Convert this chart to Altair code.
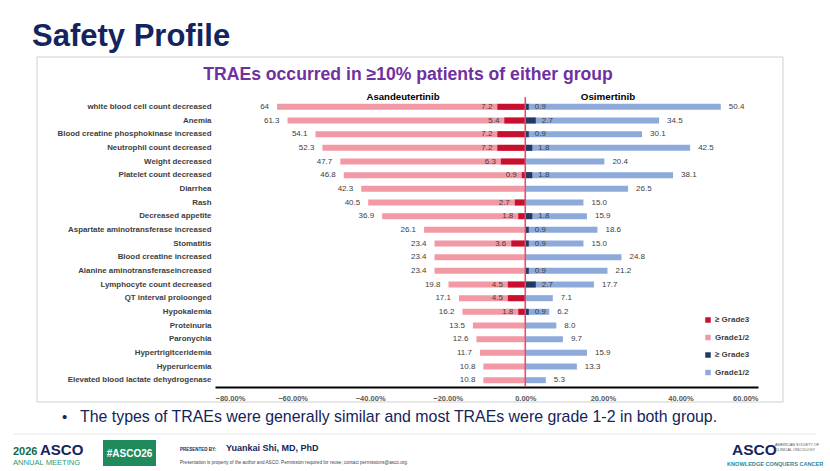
import altair as alt
import pandas as pd

# Treatment-related adverse events (% of patients), most frequent first
events = [
    "white blood cell count decreased",
    "Anemia",
    "Blood creatine phosphokinase increased",
    "Neutrophil count decreased",
    "Weight decreased",
    "Platelet count decreased",
    "Diarrhea",
    "Rash",
    "Decreased appetite",
    "Aspartate aminotransferase increased",
    "Stomatitis",
    "Blood creatine  increased",
    "Alanine aminotransferaseincreased",
    "Lymphocyte count decreased",
    "QT interval proloonged",
    "Hypokalemia",
    "Proteinuria",
    "Paronychia",
    "Hypertrigltceridemia",
    "Hyperuricemia",
    "Elevated blood lactate dehydrogenase",
]
asan_any = [64, 61.3, 54.1, 52.3, 47.7, 46.8, 42.3, 40.5, 36.9, 26.1, 23.4,
            23.4, 23.4, 19.8, 17.1, 16.2, 13.5, 12.6, 11.7, 10.8, 10.8]
asan_g3 = [7.2, 5.4, 7.2, 7.2, 6.3, 0.9, None, 2.7, 1.8, None, 3.6,
           None, None, 4.5, 4.5, 1.8, None, None, None, None, None]
osim_any = [50.4, 34.5, 30.1, 42.5, 20.4, 38.1, 26.5, 15.0, 15.9, 18.6, 15.0,
            24.8, 21.2, 17.7, 7.1, 6.2, 8.0, 9.7, 15.9, 13.3, 5.3]
osim_g3 = [0.9, 2.7, 0.9, 1.8, None, 1.8, None, None, 1.8, 0.9, 0.9,
           None, 0.9, 2.7, None, 0.9, None, None, None, None, None]
x_ticks = [-80, -60, -40, -20, 0, 20, 40, 60]

series_keys = ["a3", "a12", "o3", "o12"]
series_colors = ["#c8102e", "#f19aa5", "#1f3864", "#8eaadb"]


def fmt(v):
    return str(v) if isinstance(v, int) else f"{v:.1f}"


rows = []
for i, ev in enumerate(events):
    rows.append(dict(event=ev, key="a12", layer="any", val=-asan_any[i], lab=fmt(asan_any[i])))
    rows.append(dict(event=ev, key="o12", layer="any", val=osim_any[i], lab=fmt(osim_any[i])))
    if asan_g3[i] is not None:
        rows.append(dict(event=ev, key="a3", layer="g3", val=-asan_g3[i], lab=fmt(asan_g3[i])))
    if osim_g3[i] is not None:
        rows.append(dict(event=ev, key="o3", layer="g3", val=osim_g3[i], lab=fmt(osim_g3[i])))
df = pd.DataFrame(rows)

FONT = "Liberation Sans"
LABEL_COL = "#404040"

x_enc = alt.X(
    "val:Q",
    scale=alt.Scale(domain=[-80, 60], nice=False, zero=False),
    axis=alt.Axis(
        values=x_ticks,
        labelExpr="format(datum.value, '.2f') + '%'",
        title=None,
        grid=False,
        ticks=False,
        domainColor="#000000",
        domainWidth=2,
        labelFont=FONT,
        labelFontSize=7.5,
        labelFontWeight="bold",
        labelColor="#595959",
        labelPadding=7,
    ),
)
y_enc = alt.Y(
    "event:N",
    sort=events,
    scale=alt.Scale(paddingInner=0, paddingOuter=0),
    axis=alt.Axis(
        title=None,
        domain=False,
        ticks=False,
        labelFont=FONT,
        labelFontSize=7.9,
        labelFontWeight="bold",
        labelColor=LABEL_COL,
        labelPadding=4,
        labelLimit=300,
    ),
)
color_enc = alt.Color(
    "key:N",
    scale=alt.Scale(domain=series_keys, range=series_colors),
    legend=alt.Legend(
        title=None,
        orient="none",
        legendX=489,
        legendY=216,
        symbolType="square",
        symbolSize=30,
        symbolStrokeWidth=0,
        labelExpr="indexof(datum.label, '3') >= 0 ? '≥ Grade3' : 'Grade1/2'",
        labelFont=FONT,
        labelFontSize=8,
        labelFontWeight="bold",
        labelColor=LABEL_COL,
        rowPadding=9.5,
        labelOffset=3,
    ),
)

base = alt.Chart(df)

bars_any = base.transform_filter("datum.layer == 'any'").mark_bar(size=6).encode(
    x=x_enc, x2=alt.datum(0), y=y_enc, color=color_enc
)
bars_g3 = base.transform_filter("datum.layer == 'g3'").mark_bar(size=6).encode(
    x="val:Q", x2=alt.datum(0), y=alt.Y("event:N", sort=events), color="key:N"
)

lbl = dict(font=FONT, fontSize=8, color=LABEL_COL, baseline="middle")
left_any = base.transform_filter("datum.key == 'a12'").mark_text(align="right", dx=-8, **lbl).encode(
    x="val:Q", y=alt.Y("event:N", sort=events), text="lab:N")
right_any = base.transform_filter("datum.key == 'o12'").mark_text(align="left", dx=8, **lbl).encode(
    x="val:Q", y=alt.Y("event:N", sort=events), text="lab:N")
left_g3 = base.transform_filter("datum.key == 'a3'").mark_text(align="right", dx=-5, **lbl).encode(
    x="val:Q", y=alt.Y("event:N", sort=events), text="lab:N")
right_g3 = base.transform_filter("datum.key == 'o3'").mark_text(align="left", dx=6, **lbl).encode(
    x="val:Q", y=alt.Y("event:N", sort=events), text="lab:N")

one = pd.DataFrame({"k": [0]})
zero_line = alt.Chart(one).mark_rule(color="#e0506a", strokeWidth=1.6).encode(
    x=alt.datum(0), y=alt.value(-3), y2=alt.value(287))

# Plot origin sits at (215, 100) on the 830x471 slide; decorations use offsets from it.
OX, OY = 215, 100


def txt(s, x, y, size, color, weight="normal", align="left", font=FONT, baseline="alphabetic"):
    return alt.Chart(one).mark_text(
        text=s, font=font, fontSize=size, color=color, fontWeight=weight,
        align=align, baseline=baseline,
    ).encode(x=alt.value(x - OX), y=alt.value(y - OY))


def box(x1, y1, x2, y2, fill=None, stroke=None, sw=1):
    kw = {}
    if fill:
        kw["fill"] = fill
    else:
        kw["fillOpacity"] = 0
    if stroke:
        kw["stroke"] = stroke
        kw["strokeWidth"] = sw
    return alt.Chart(one).mark_rect(**kw).encode(
        x=alt.value(x1 - OX), x2=alt.value(x2 - OX), y=alt.value(y1 - OY), y2=alt.value(y2 - OY))


NAVY = "#14245c"
decor = [
    txt("Safety Profile", 32, 46, 31, NAVY, "bold"),
    box(37, 57, 783, 402, stroke="#cfcfcf", sw=1),
    txt("TRAEs occurred in ≥10% patients of either group", 408, 80, 17.6, "#7030a0", "bold", "center"),
    txt("Asandeutertinib", 403, 100, 9.6, "#000000", "bold", "center"),
    txt("Osimertinib", 608, 100, 9.8, "#000000", "bold", "center"),
    txt("•", 62, 422, 15, NAVY),
    txt("The types of TRAEs were generally similar and most TRAEs were grade 1-2 in both group.",
        80, 422, 15.9, NAVY),
    alt.Chart(one).mark_rule(color="#e6e6e6", strokeWidth=1).encode(
        x=alt.value(14 - OX), x2=alt.value(816 - OX), y=alt.value(434 - OY)),
    txt("2026", 13, 455, 11, "#0f6b4f", "bold"),
    txt("ASCO", 40, 455, 15, NAVY, "bold"),
    txt("ANNUAL MEETING", 13, 465, 7.6, "#2a9a7a"),
    box(103, 440, 156, 466, fill="#1f8a5b"),
    txt("#ASCO26", 129.5, 457, 10, "#ffffff", "bold", "center"),
    txt("PRESENTED BY:", 180, 450.5, 4.5, NAVY, "bold"),
    txt("Yuankai Shi, MD, PhD", 226, 451, 9, NAVY, "bold"),
    txt("Presentation is property of the author and ASCO. Permission required for reuse; contact permissions@asco.org.",
        180, 464, 4.6, "#444444"),
    txt("ASCO", 732, 455, 15.5, NAVY, "bold"),
    txt("AMERICAN SOCIETY OF", 775, 446, 3.8, "#555555"),
    txt("CLINICAL ONCOLOGY", 775, 451, 3.8, "#555555"),
    txt("KNOWLEDGE CONQUERS CANCER", 727, 466, 5.6, "#2a8a9a", "bold"),
]

chart = alt.layer(
    bars_any, bars_g3, zero_line, left_any, right_any, left_g3, right_g3, *decor
).properties(
    width=543,
    height=287,
    padding={"left": OX, "top": OY, "right": 72, "bottom": 84},
    autosize=alt.AutoSizeParams(type="none"),
    background="#ffffff",
).configure_view(stroke=None)

chart.save("out.html", embed_options={"renderer": "svg", "actions": False})
